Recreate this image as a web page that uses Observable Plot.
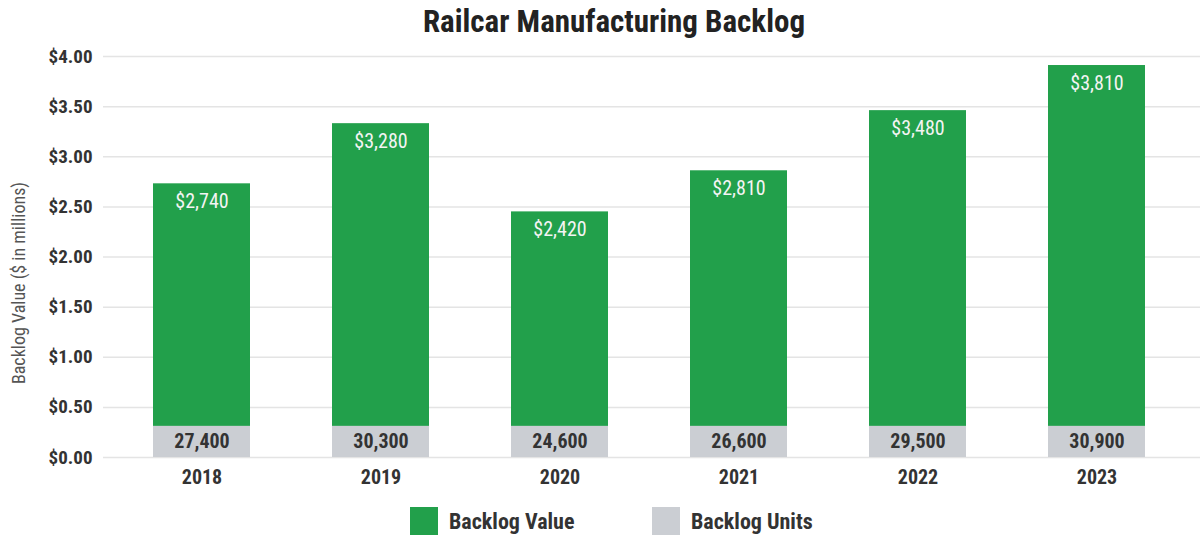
<!DOCTYPE html>
<html>
<head>
<meta charset="utf-8">
<script src="https://cdn.jsdelivr.net/npm/d3@7"></script>
<script src="https://cdn.jsdelivr.net/npm/@observablehq/plot@0.6"></script>
<style>
  html, body { margin: 0; padding: 0; background: #fff; }
  body { width: 1203px; height: 538px; position: relative; overflow: hidden;
         font-family: "Liberation Sans Narrow", "Roboto Condensed", "DejaVu Sans Condensed", "Roboto", sans-serif; }
  #title { position: absolute; left: 0; width: 1228px; top: 3px; text-align: center;
           font-size: 31px; font-weight: bold; color: #222; line-height: 38px; }
  #ylabel { position: absolute; left: 18px; top: 283px; transform: translate(-50%, -50%) rotate(-90deg);
            white-space: nowrap; font-size: 18px; color: #555; }
  #chart { position: absolute; left: 0; top: 0; }
  .leg { position: absolute; top: 507px; height: 28px; display: flex; align-items: center;
         font-size: 22px; font-weight: bold; color: #333; }
  .leg .sw { width: 28px; height: 28px; margin-right: 11px; }
</style>
</head>
<body>
<div id="chart"></div>
<div id="title">Railcar Manufacturing Backlog</div>
<div id="ylabel">Backlog Value ($ in millions)</div>
<div class="leg" style="left:410px"><div class="sw" style="background:#22a04b"></div>Backlog Value</div>
<div class="leg" style="left:652px"><div class="sw" style="background:#cbced3"></div>Backlog Units</div>
<script>
const years = ["2018", "2019", "2020", "2021", "2022", "2023"];
const backlogValue = [2.73, 3.33, 2.45, 2.86, 3.46, 3.91];
const valueLabels = ["$2,740", "$3,280", "$2,420", "$2,810", "$3,480", "$3,810"];
const unitsLabels = ["27,400", "30,300", "24,600", "26,600", "29,500", "30,900"];
const unitsBandTop = 0.31;
const yTicks = [0, 0.5, 1, 1.5, 2, 2.5, 3, 3.5, 4];

const data = years.map((y, i) => ({
  year: y, value: backlogValue[i], valueLabel: valueLabels[i], units: unitsLabels[i]
}));

const green = "#22a04b";
const grey = "#cbced3";
const font = '"Liberation Sans Narrow", "Roboto Condensed", "DejaVu Sans Condensed", "Roboto", sans-serif';

const chart = Plot.plot({
  width: 1203,
  height: 490,
  marginTop: 56,
  marginBottom: 33,
  marginLeft: 103,
  marginRight: 3,
  style: { fontFamily: font, background: "white" },
  x: { domain: years, range: [150, 1147], paddingInner: 0.46, paddingOuter: 0, label: null },
  y: { domain: [0, 4], label: null },
  marks: [
    Plot.ruleY(yTicks, { stroke: "#e4e4e4", strokeWidth: 1.5 }),
    Plot.barY(data, { x: "year", y1: unitsBandTop, y2: "value", fill: green }),
    Plot.barY(data, { x: "year", y1: 0, y2: unitsBandTop, fill: grey }),
    Plot.text(data, { x: "year", y: "value", text: "valueLabel", dy: 18, fill: "#f4f4f4", fontSize: 20 }),
    Plot.text(data, { x: "year", y: unitsBandTop / 2, text: "units", fill: "#333", fontSize: 20, fontWeight: "bold" }),
    Plot.axisY(yTicks, { tickSize: 0, tickPadding: 11, tickFormat: d => "$" + d.toFixed(2),
                        fontSize: 19, fontWeight: "bold", fill: "#333", label: null }),
    Plot.axisX({ tickSize: 0, tickPadding: 12, fontSize: 20, fontWeight: "bold", fill: "#333", label: null })
  ]
});
document.getElementById("chart").appendChild(chart);
</script>
</body>
</html>
